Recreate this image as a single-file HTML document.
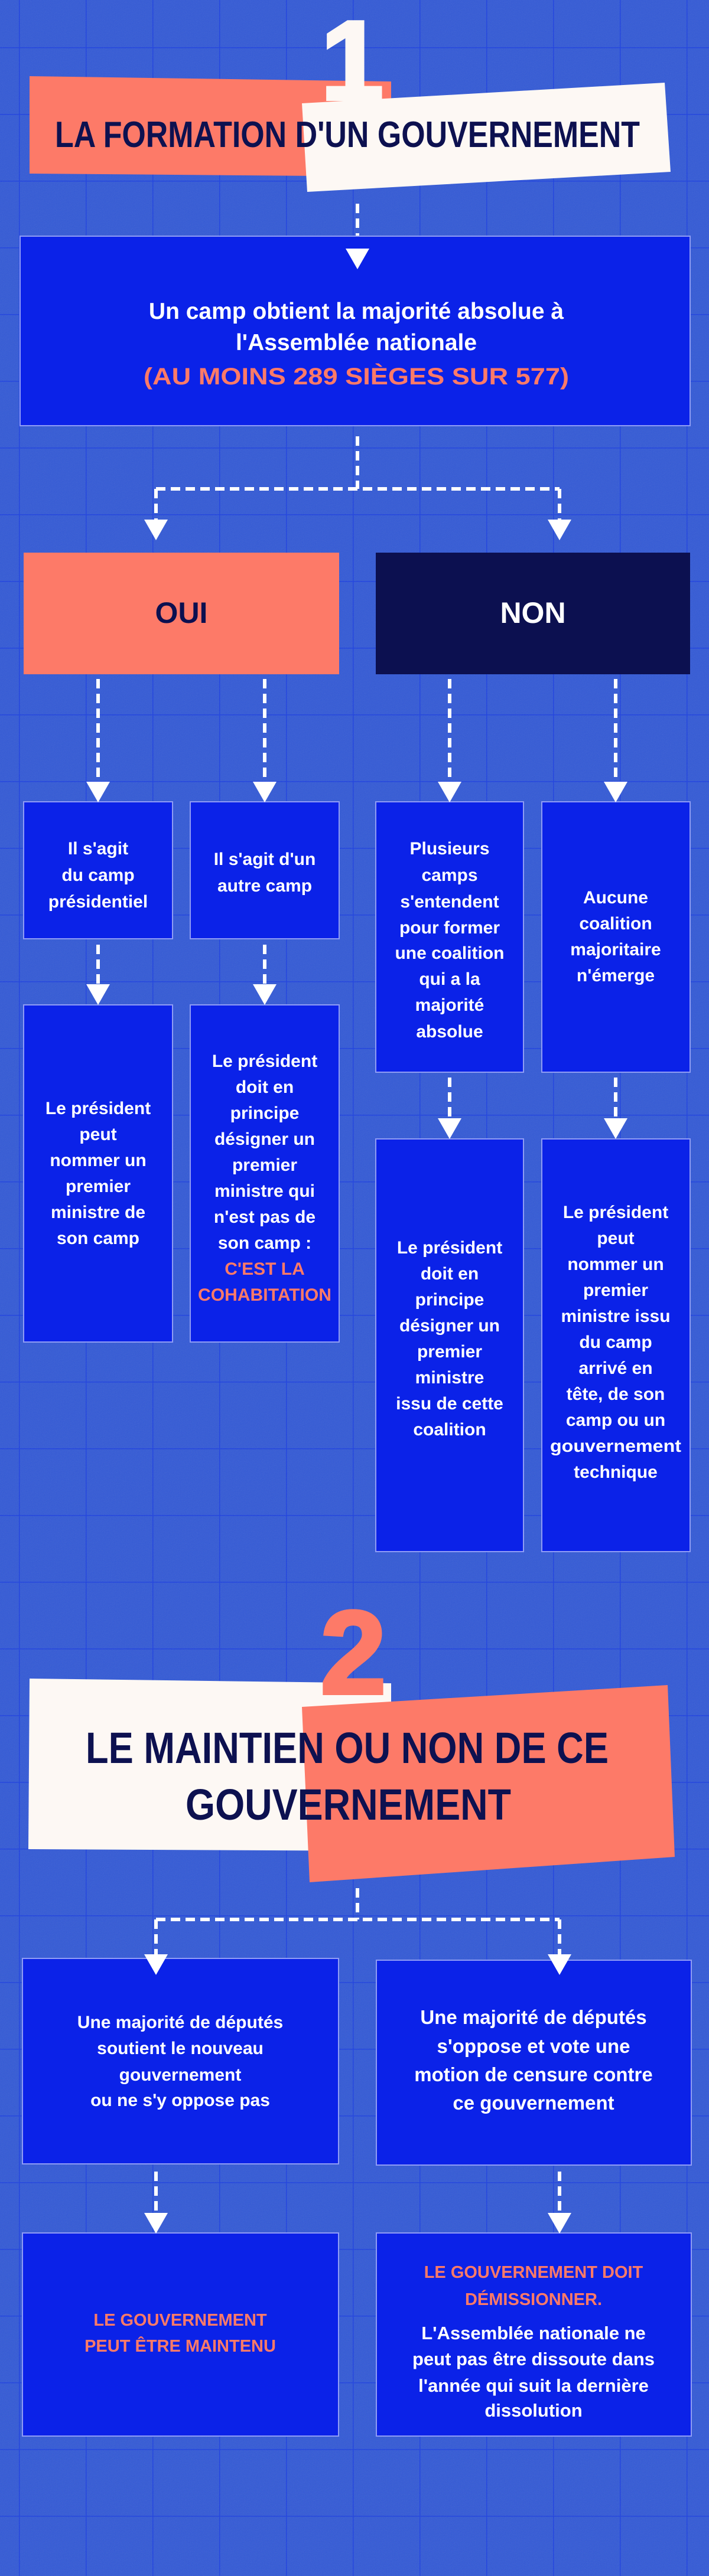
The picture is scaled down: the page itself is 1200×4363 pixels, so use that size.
<!DOCTYPE html>
<html><head><meta charset="utf-8"><style>
html,body{margin:0;padding:0;background:#3158d6}
svg{display:block}
text{font-family:"Liberation Sans",sans-serif;font-weight:bold}
</style></head><body>
<svg width="1200" height="4363" viewBox="0 0 1200 4363" xmlns="http://www.w3.org/2000/svg">
<defs>
<pattern id="g" width="113" height="113" patternUnits="userSpaceOnUse" x="32" y="-33">
<rect width="113" height="113" fill="#3158d6"/>
<path d="M0 0H113M0 0V113" stroke="#1b3fe0" stroke-width="3"/>
</pattern>
<filter id="n"><feTurbulence type="fractalNoise" baseFrequency="0.9" numOctaves="1" result="t"/><feColorMatrix type="saturate" values="0"/><feComponentTransfer><feFuncA type="table" tableValues="0 0.25"/></feComponentTransfer></filter>
</defs>
<rect width="1200" height="4363" fill="url(#g)"/>
<rect width="1200" height="4363" filter="url(#n)" opacity="0.6"/>

<g fill="none" stroke="#fff" stroke-width="6" stroke-dasharray="16 9">
<path d="M605 345V422"/>
<path d="M605 739V828M264 828H947M264 828V880M947 828V880"/>
<path d="M166 1150V1325M448 1150V1325M761 1150V1325M1042 1150V1325"/>
<path d="M166 1600V1668M448 1600V1668M761 1825V1895M1042 1825V1895"/>
<path d="M605 3198V3251M264 3251H947M264 3251V3312M947 3251V3312"/>
<path d="M264 3678V3750M947 3678V3750"/>
</g>

<!-- Title 1 -->
<polygon points="50,129 662,138 662,299 50,294" fill="#fd7a68"/>
<text x="596" y="168" font-size="190" fill="#fdf8f4" text-anchor="middle" stroke="#fdf8f4" stroke-width="6">1</text>
<polygon points="511,175 1125,140 1135,291 520,325" fill="#fdf8f4"/>
<text x="93" y="249" font-size="62" fill="#0d1150" textLength="990" lengthAdjust="spacingAndGlyphs">LA FORMATION D'UN GOUVERNEMENT</text>

<g stroke="#8f9cf5" stroke-width="2" fill="#0b22e8">
<rect x="34" y="400" width="1134" height="321"/>
<rect x="40" y="1358" width="252" height="232"/>
<rect x="322" y="1358" width="252" height="232"/>
<rect x="636" y="1358" width="250" height="458"/>
<rect x="917" y="1358" width="251" height="458"/>
<rect x="40" y="1702" width="252" height="571"/>
<rect x="322" y="1702" width="252" height="571"/>
<rect x="636" y="1929" width="250" height="699"/>
<rect x="917" y="1929" width="251" height="699"/>
<rect x="38" y="3317" width="535" height="348"/>
<rect x="637" y="3320" width="533" height="347"/>
<rect x="38" y="3782" width="535" height="344"/>
<rect x="637" y="3782" width="533" height="344"/>
</g>
<rect x="40" y="936" width="534" height="206" fill="#fd7a68"/>
<rect x="636" y="936" width="532" height="206" fill="#0c1050"/>

<g fill="#fff">
<path d="M585 421H625L605 456Z"/>
<path d="M244 880H284L264 915Z"/><path d="M927 880H967L947 915Z"/>
<path d="M146 1324H186L166 1359Z"/><path d="M428 1324H468L448 1359Z"/><path d="M741 1324H781L761 1359Z"/><path d="M1022 1324H1062L1042 1359Z"/>
<path d="M146 1667H186L166 1702Z"/><path d="M428 1667H468L448 1702Z"/><path d="M741 1894H781L761 1929Z"/><path d="M1022 1894H1062L1042 1929Z"/>
<path d="M244 3310H284L264 3345Z"/><path d="M927 3310H967L947 3345Z"/>
<path d="M244 3748H284L264 3783Z"/><path d="M927 3748H967L947 3783Z"/>
</g>

<g text-anchor="middle" fill="#fff">
<text x="603" y="540" font-size="39">Un camp obtient la majorité absolue à</text>
<text x="603" y="593" font-size="39">l'Assemblée nationale</text>
<text x="603" y="651" font-size="40" fill="#fd7a68" textLength="720" lengthAdjust="spacingAndGlyphs">(AU MOINS 289 SIÈGES SUR 577)</text>
<text x="307" y="1055" font-size="50" fill="#0c1050">OUI</text>
<text x="902" y="1055" font-size="50">NON</text>

<g font-size="30">
<text x="166" y="1447">Il s'agit</text><text x="166" y="1492">du camp</text><text x="166" y="1537">présidentiel</text>
<text x="448" y="1465">Il s'agit d'un</text><text x="448" y="1510">autre camp</text>
<text x="761" y="1447">Plusieurs</text><text x="761" y="1492">camps</text><text x="761" y="1537">s'entendent</text><text x="761" y="1581">pour former</text><text x="761" y="1624">une coalition</text><text x="761" y="1668">qui a la</text><text x="761" y="1712">majorité</text><text x="761" y="1757">absolue</text>
<text x="1042" y="1530">Aucune</text><text x="1042" y="1574">coalition</text><text x="1042" y="1618">majoritaire</text><text x="1042" y="1662">n'émerge</text>

<text x="166" y="1887">Le président</text><text x="166" y="1931">peut</text><text x="166" y="1975">nommer un</text><text x="166" y="2019">premier</text><text x="166" y="2063">ministre de</text><text x="166" y="2107">son camp</text>
<text x="448" y="1807">Le président</text><text x="448" y="1851">doit en</text><text x="448" y="1895">principe</text><text x="448" y="1939">désigner un</text><text x="448" y="1983">premier</text><text x="448" y="2027">ministre qui</text><text x="448" y="2071">n'est pas de</text><text x="448" y="2115">son camp :</text>
<text x="448" y="2159" fill="#fd7a68">C'EST LA</text><text x="448" y="2203" fill="#fd7a68" textLength="226" lengthAdjust="spacingAndGlyphs">COHABITATION</text>
<text x="761" y="2123">Le président</text><text x="761" y="2167">doit en</text><text x="761" y="2211">principe</text><text x="761" y="2255">désigner un</text><text x="761" y="2299">premier</text><text x="761" y="2343">ministre</text><text x="761" y="2387">issu de cette</text><text x="761" y="2431">coalition</text>
<text x="1042" y="2063">Le président</text><text x="1042" y="2107">peut</text><text x="1042" y="2151">nommer un</text><text x="1042" y="2195">premier</text><text x="1042" y="2239">ministre issu</text><text x="1042" y="2283">du camp</text><text x="1042" y="2327">arrivé en</text><text x="1042" y="2371">tête, de son</text><text x="1042" y="2415">camp ou un</text><text x="1042" y="2459" textLength="222" lengthAdjust="spacingAndGlyphs">gouvernement</text><text x="1042" y="2503">technique</text>
</g>
</g>

<!-- Title 2 -->
<polygon points="50,2843 662,2851 662,3135 48,3132" fill="#fdf8f4"/>
<text x="598" y="2868" font-size="200" fill="#fd7a68" text-anchor="middle" stroke="#fd7a68" stroke-width="6">2</text>
<polygon points="511,2891 1130,2854 1142,3145 524,3188" fill="#fd7a68"/>
<text x="145" y="2986" font-size="74" fill="#0d1150" textLength="885" lengthAdjust="spacingAndGlyphs">LE MAINTIEN OU NON DE CE</text>
<text x="314" y="3082" font-size="74" fill="#0d1150" textLength="551" lengthAdjust="spacingAndGlyphs">GOUVERNEMENT</text>

<g text-anchor="middle" fill="#fff">
<g font-size="30">
<text x="305" y="3435">Une majorité de députés</text><text x="305" y="3479">soutient le nouveau</text><text x="305" y="3524">gouvernement</text><text x="305" y="3567">ou ne s'y oppose pas</text>
</g>
<g font-size="33">
<text x="903" y="3428">Une majorité de députés</text><text x="903" y="3477">s'oppose et vote une</text><text x="903" y="3525">motion de censure contre</text><text x="903" y="3573">ce gouvernement</text>
</g>
<g font-size="29" fill="#fd7a68">
<text x="305" y="3939">LE GOUVERNEMENT</text><text x="305" y="3983">PEUT ÊTRE MAINTENU</text>
<text x="903" y="3858">LE GOUVERNEMENT DOIT</text><text x="903" y="3904">DÉMISSIONNER.</text>
</g>
<g font-size="31">
<text x="903" y="3962">L'Assemblée nationale ne</text><text x="903" y="4006">peut pas être dissoute dans</text><text x="903" y="4051">l'année qui suit la dernière</text><text x="903" y="4093">dissolution</text>
</g>
</g>
</svg>
</body></html>
